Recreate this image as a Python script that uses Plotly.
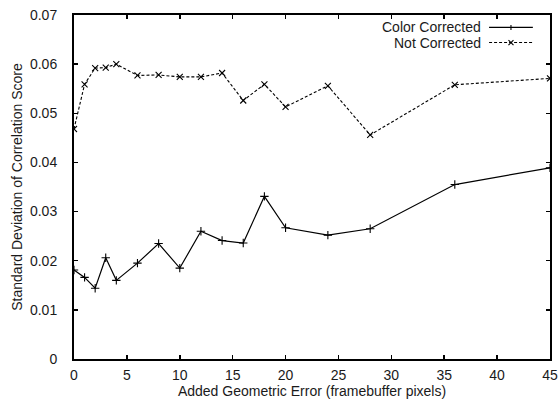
import plotly.graph_objects as go

x_vals = [0, 1, 2, 3, 4, 6, 8, 10, 12, 14, 16, 18, 20, 24, 28, 36, 45]
color_corrected = [0.0181, 0.0166, 0.0144, 0.0206, 0.0160, 0.0195, 0.0235, 0.0185,
                   0.0260, 0.0241, 0.0236, 0.0331, 0.0267, 0.0252, 0.0265, 0.0355, 0.0389]
not_corrected = [0.0468, 0.0559, 0.0592, 0.0593, 0.0600, 0.0577, 0.0578, 0.0574,
                 0.0574, 0.0582, 0.0526, 0.0559, 0.0513, 0.0556, 0.0456, 0.0558, 0.0571]
series_names = ["Color Corrected", "Not Corrected"]
x_ticks = [0, 5, 10, 15, 20, 25, 30, 35, 40, 45]
y_ticks = [0, 0.01, 0.02, 0.03, 0.04, 0.05, 0.06, 0.07]
y_tick_labels = ["0", "0.01", "0.02", "0.03", "0.04", "0.05", "0.06", "0.07"]

FONT = "Liberation Sans, Arial, Helvetica, sans-serif"
FS = 14
TXT = "#1a1a1a"

fig = go.Figure()
fig.add_trace(go.Scatter(
    x=x_vals, y=color_corrected, mode="lines+markers", name=series_names[0],
    line=dict(color="black", width=1.2),
    marker=dict(symbol="cross-thin", size=6, line=dict(color="black", width=1.1)),
    showlegend=False, hoverinfo="skip"))
fig.add_trace(go.Scatter(
    x=x_vals, y=not_corrected, mode="lines+markers", name=series_names[1],
    line=dict(color="black", width=1.1, dash="3px,2px"),
    marker=dict(symbol="x-thin", size=6, line=dict(color="black", width=1.1)),
    showlegend=False, hoverinfo="skip"))

axis_common = dict(
    showline=True, linecolor="black", linewidth=2, mirror="ticks",
    ticks="inside", ticklen=4, tickwidth=1.5, tickcolor="black",
    showgrid=False, zeroline=False, automargin=False,
    tickfont=dict(family=FONT, size=FS, color=TXT),
)

fig.update_xaxes(range=[0, 45], tickvals=x_ticks, ticklabelstandoff=2,
                 title=dict(text="Added Geometric Error (framebuffer pixels)",
                            font=dict(family=FONT, size=FS, color=TXT), standoff=4),
                 **axis_common)
fig.update_yaxes(range=[0, 0.07], tickvals=y_ticks, ticktext=y_tick_labels,
                 ticklabelstandoff=12,
                 title=dict(text="Standard Deviation of Correlation Score",
                            font=dict(family=FONT, size=FS, color=TXT), standoff=4),
                 **axis_common)

# Manual legend (text right-aligned, sample to the right), gnuplot style
legend_y = [0.964, 0.920]
dashes = ["solid", "3px,2px"]
symbols = ["+", "x"]
x_line0, x_line1 = 0.872, 0.964
xc = (x_line0 + x_line1) / 2
for i, name in enumerate(series_names):
    fig.add_annotation(xref="paper", yref="paper", x=0.857, y=legend_y[i],
                       text=name, showarrow=False, xanchor="right", yanchor="middle",
                       font=dict(family=FONT, size=FS, color=TXT), borderpad=0)
    fig.add_shape(type="line", xref="paper", yref="paper",
                  x0=x_line0, x1=x_line1, y0=legend_y[i], y1=legend_y[i],
                  line=dict(color="black", width=1.1, dash=dashes[i]))
    if symbols[i] == "+":
        fig.add_shape(type="line", xref="paper", yref="paper", xsizemode="pixel",
                      ysizemode="pixel", xanchor=xc, yanchor=legend_y[i],
                      x0=0, x1=0, y0=-2.5, y1=2.5, line=dict(color="black", width=1.1))
    else:
        for s in (1, -1):
            fig.add_shape(type="line", xref="paper", yref="paper", xsizemode="pixel",
                          ysizemode="pixel", xanchor=xc, yanchor=legend_y[i],
                          x0=-2.5, x1=2.5, y0=-2.5 * s, y1=2.5 * s,
                          line=dict(color="black", width=1.1))

fig.update_layout(
    width=559, height=406,
    margin=dict(l=74, r=9, t=15, b=47),
    paper_bgcolor="white", plot_bgcolor="white",
    font=dict(family=FONT, size=FS, color=TXT),
    showlegend=False, hovermode=False,
)

fig.write_html("out.html", config={"displayModeBar": False, "staticPlot": True},
               post_script="document.body.style.margin='0';document.body.style.overflow='hidden';")
